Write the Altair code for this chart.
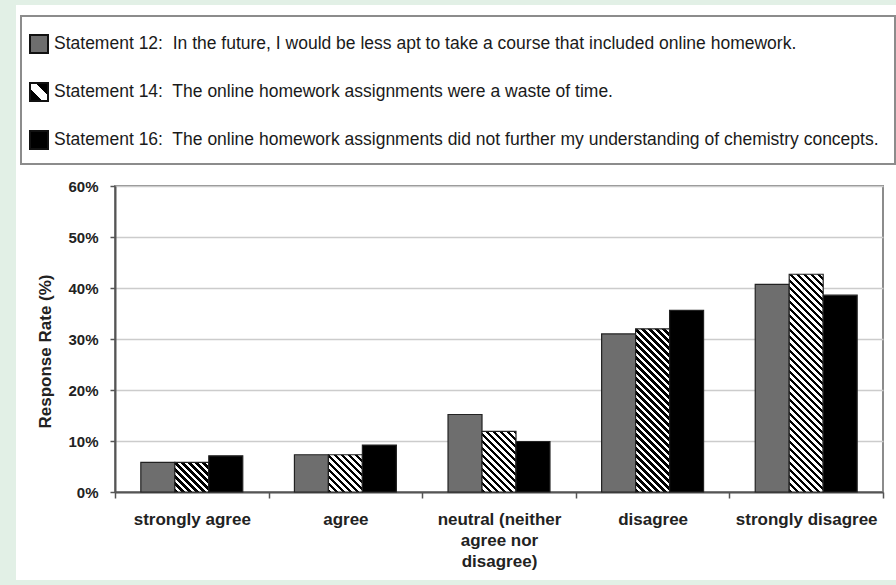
import math
import altair as alt

# ---------------- data ----------------
categories = [
    "strongly agree",
    "agree",
    "neutral (neither\nagree nor\ndisagree)",
    "disagree",
    "strongly disagree",
]
series = ["Statement 12", "Statement 14", "Statement 16"]
s12 = [5.8, 7.3, 15.2, 31.0, 40.7]
s14 = [5.8, 7.3, 11.9, 32.0, 42.7]
s16 = [7.1, 9.2, 9.9, 35.6, 38.6]
y_ticks = [0, 10, 20, 30, 40, 50, 60]
legend_texts = [
    "Statement 12:\u00a0 In the future, I would be less apt to take a course that included online homework.",
    "Statement 14:\u00a0 The online homework assignments were a waste of time.",
    "Statement 16:\u00a0 The online homework assignments did not further my understanding of chemistry concepts.",
]

# ---------------- layout / style ----------------
W, H = 768, 306
Y_MAX = 60
PAD_L, PAD_T, PAD_R, PAD_B = 115, 186, 13, 93
OFF_PAD = 0.76
BAR_W = (W / len(categories)) / (len(series) + 2 * OFF_PAD)
GRAY = "#6e6e6e"
GREEN = "#e2f0e6"
FONT = "Liberation Sans"


def hatch(h_px, w_px=BAR_W, period=7.0):
    """diagonal black/white stripes (\\\\ direction) as a linear gradient"""
    h_px = max(h_px, 1.0)
    span = w_px + h_px
    k = span / (w_px ** 2 + h_px ** 2)
    stops = []
    n = int(math.ceil(span / period))
    for i in range(n):
        a = min(i * period / span, 1.0)
        b = min((i + 0.5) * period / span, 1.0)
        c = min((i + 1) * period / span, 1.0)
        stops += [
            {"offset": a, "color": "#000000"},
            {"offset": b, "color": "#000000"},
            {"offset": b, "color": "#ffffff"},
            {"offset": c, "color": "#ffffff"},
        ]
    return {"gradient": "linear", "x1": 0, "y1": 1,
            "x2": k * w_px, "y2": 1 - k * h_px, "stops": stops}


records = []
for ci, cat in enumerate(categories):
    for si, (name, vals) in enumerate(zip(series, [s12, s14, s16])):
        v = vals[ci]
        if si == 0:
            fill = GRAY
        elif si == 1:
            fill = hatch(v / Y_MAX * H)
        else:
            fill = "#000000"
        records.append({"category": cat, "series": name, "value": v, "fill": fill})

bars = alt.Chart(alt.Data(values=records)).mark_bar(
    stroke="#222222", strokeWidth=1.2
).encode(
    x=alt.X("category:N", sort=categories,
            scale=alt.Scale(paddingInner=0, paddingOuter=0),
            axis=alt.Axis(title=None, labelAngle=0, labelFont=FONT, labelFontSize=17,
                          labelFontWeight="bold", labelColor="#222222",
                          labelExpr="split(datum.label, '\\n')",
                          labelLineHeight=21, labelPadding=13,
                          tickBand="extent", tickSize=6, tickColor="#555555",
                          tickWidth=1.5, domainColor="#555555", domainWidth=2,
                          grid=False, labelLimit=300)),
    xOffset=alt.XOffset("series:N", sort=series,
                        scale=alt.Scale(paddingInner=0, paddingOuter=OFF_PAD)),
    y=alt.Y("value:Q", stack=None,
            scale=alt.Scale(domain=[0, Y_MAX], nice=False),
            axis=alt.Axis(values=y_ticks, labelExpr="datum.value + '%'",
                          title="Response Rate (%)", titleFont=FONT,
                          titleFontSize=17, titleFontWeight="bold",
                          titleColor="#222222", titlePadding=13, titleY=165,
                          labelFont=FONT, labelFontSize=15, labelFontWeight="bold",
                          labelColor="#222222", labelPadding=12,
                          tickSize=5, tickColor="#555555", tickWidth=1.5,
                          domainColor="#555555", domainWidth=2,
                          grid=True, gridColor="#cccccc", gridWidth=1.5)),
    fill=alt.Fill("fill:N", scale=None, legend=None),
)

dummy = alt.Data(values=[{"a": 1}])


def box(x, x2, y, y2, **kw):
    return alt.Chart(dummy).mark_rect(**kw).encode(
        x=alt.value(x), x2=alt.value(x2), y=alt.value(y), y2=alt.value(y2))


TOTAL_W = W + PAD_L + PAD_R
TOTAL_H = H + PAD_T + PAD_B

layers = [
    # green page margins
    box(-PAD_L, 16 - PAD_L, -PAD_T, TOTAL_H - PAD_T, fill=GREEN),
    box(-PAD_L, TOTAL_W - PAD_L, -PAD_T, 5 - PAD_T, fill=GREEN),
    box(-PAD_L, TOTAL_W - PAD_L, 580 - PAD_T, TOTAL_H - PAD_T, fill=GREEN),
    # legend frame
    box(21 - PAD_L, 895 - PAD_L, 16 - PAD_T, 164 - PAD_T,
        fill="#ffffff", stroke="#8c8c8c", strokeWidth=2),
]

legend_fills = [
    GRAY,
    {"gradient": "linear", "x1": 0, "y1": 1, "x2": 1, "y2": 0,
     "stops": [{"offset": 0, "color": "#000000"}, {"offset": 0.36, "color": "#000000"},
               {"offset": 0.36, "color": "#ffffff"}, {"offset": 0.64, "color": "#ffffff"},
               {"offset": 0.64, "color": "#000000"}, {"offset": 1, "color": "#000000"}]},
    "#000000",
]
row_y = [44, 92, 140]
for i, txt in enumerate(legend_texts):
    cy = row_y[i] - PAD_T
    layers.append(box(30 - PAD_L, 48 - PAD_L, cy - 9, cy + 9,
                      fill=legend_fills[i], stroke="#111111", strokeWidth=2))
    layers.append(
        alt.Chart(dummy).mark_text(align="left", baseline="middle", font=FONT,
                                   fontSize=17.5, color="#1a1a1a").encode(
            x=alt.value(54 - PAD_L), y=alt.value(cy), text=alt.value(txt))
    )

layers.append(bars)

chart = alt.layer(*layers).properties(
    width=W, height=H,
    autosize=alt.AutoSizeParams(type="none"),
    padding={"left": PAD_L, "top": PAD_T, "right": PAD_R, "bottom": PAD_B},
    background="#ffffff",
).configure_view(stroke="#8c8c8c", strokeWidth=2)

chart.save("out.html", embed_options={"renderer": "svg", "actions": False})
